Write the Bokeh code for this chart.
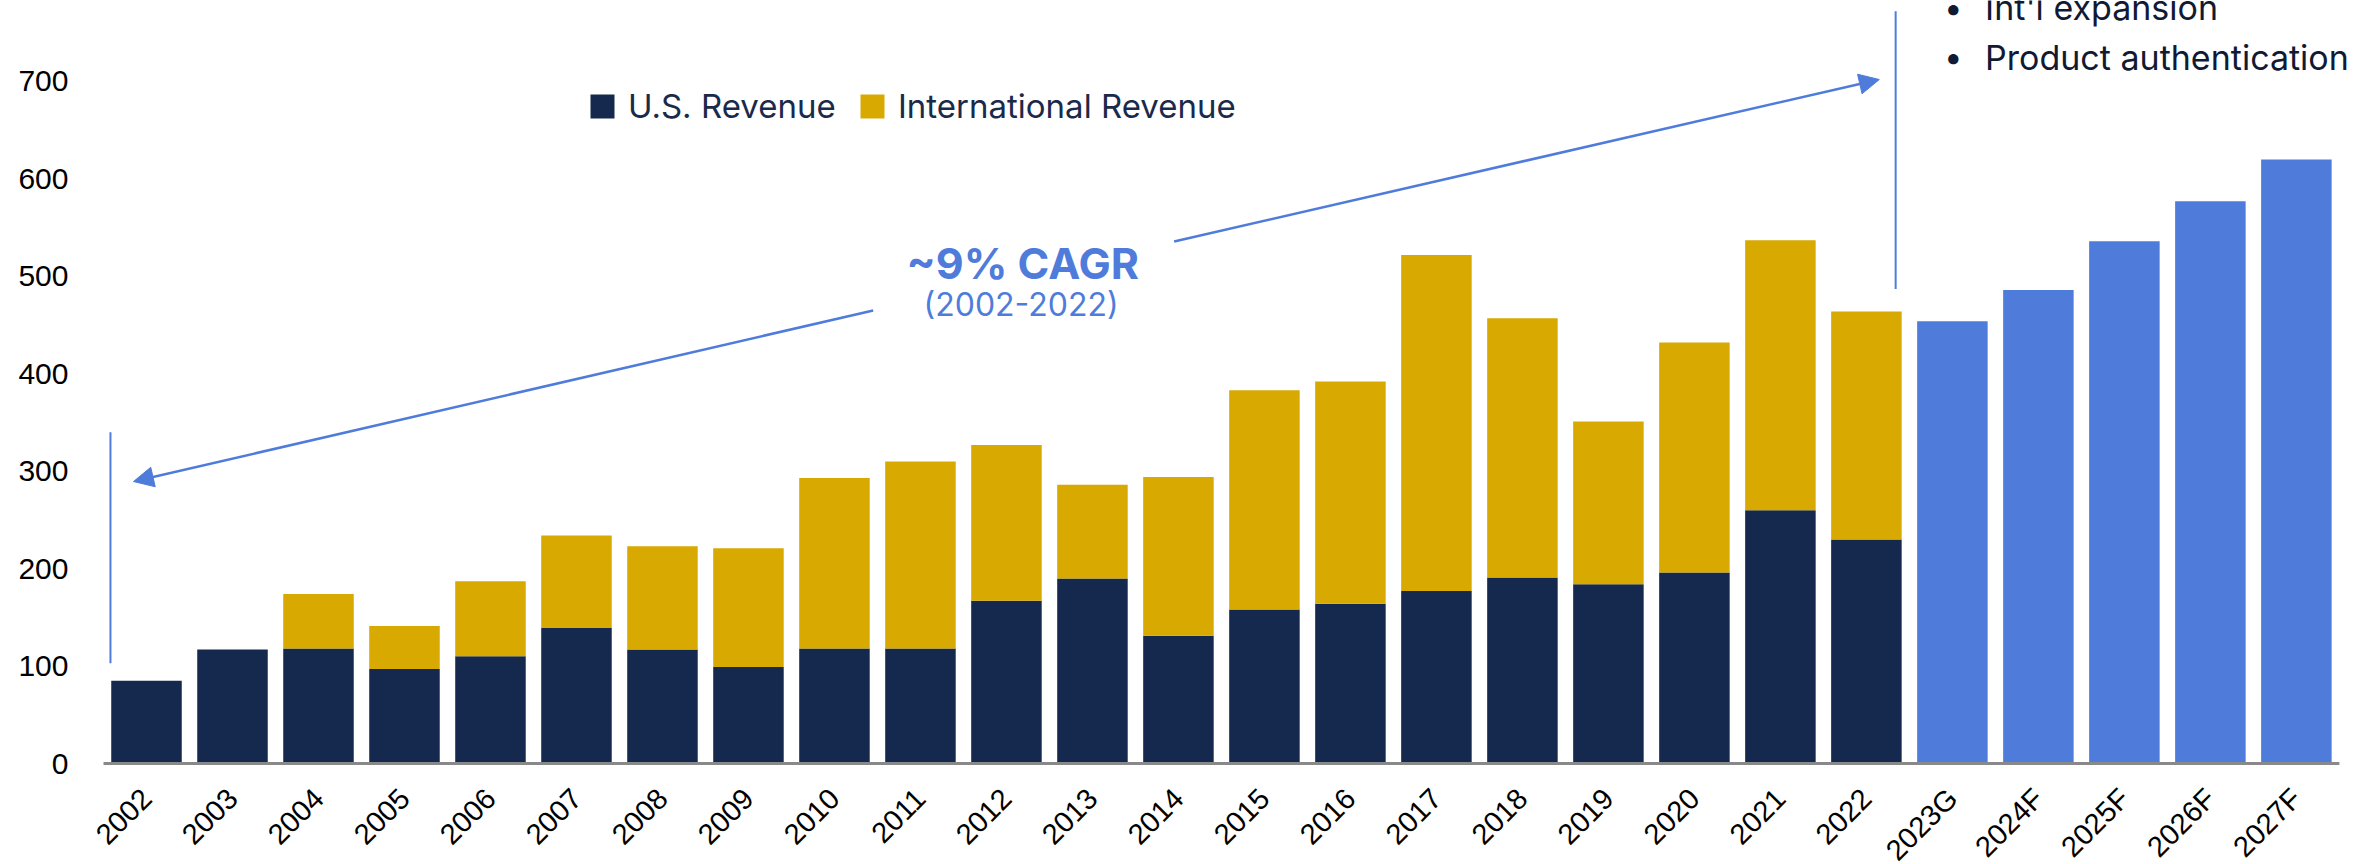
import math
from bokeh.plotting import figure
from bokeh.models import (Range1d, FixedTicker, ColumnDataSource, LabelSet,
                          Label, Arrow, NormalHead, Legend, LegendItem)
from bokeh.embed import file_html
from bokeh.resources import INLINE
from bokeh.core.properties import value

# ---------------- data ----------------
hist_years = ["2002", "2003", "2004", "2005", "2006", "2007", "2008", "2009", "2010", "2011",
              "2012", "2013", "2014", "2015", "2016", "2017", "2018", "2019", "2020", "2021", "2022"]
us_revenue = [85, 117, 118, 97, 110, 139, 117, 99, 118, 118,
              167, 190, 131, 158, 164, 177, 191, 184, 196, 260, 230]
intl_revenue = [0, 0, 56, 44, 77, 95, 106, 122, 175, 192,
                160, 96, 163, 225, 228, 345, 266, 167, 236, 277, 234]
fc_years = ["2023G", "2024F", "2025F", "2026F", "2027F"]
fc_revenue = [454, 486, 536, 577, 620]
y_ticks = [0, 100, 200, 300, 400, 500, 600, 700]
all_years = hist_years + fc_years

NAVY = "#15294f"
GOLD = "#d8a900"
BLUE = "#4f7cdb"
TEXT_NAVY = "#1a2a4a"
FONT = "Inter"

# category slots: one unit per year, bar centred in its slot
n = len(all_years)
x_all = [i + 0.5 for i in range(n)]
x_hist = x_all[:len(hist_years)]
x_fc = x_all[len(hist_years):]

W, H = 2375, 864
p = figure(x_range=Range1d(-0.3837, 26.42), y_range=Range1d(-103.66, 783.1),
           width=W, height=H, output_backend="svg", toolbar_location=None,
           min_border_left=70, min_border_right=0, min_border_top=0, min_border_bottom=0)
p.outline_line_color = None
p.grid.grid_line_color = None
p.background_fill_color = "white"

src = ColumnDataSource(dict(x=x_hist, us=us_revenue, intl=intl_revenue))
rs = p.vbar_stack(["us", "intl"], x="x", width=0.82, color=[NAVY, GOLD], source=src,
                  line_color=None)
p.vbar(x=x_fc, top=fc_revenue, width=0.82, color=BLUE, line_color=None)

# y axis
p.yaxis.ticker = FixedTicker(ticks=y_ticks)
p.yaxis.axis_line_color = None
p.yaxis.major_tick_line_color = None
p.yaxis.major_tick_out = 0
p.yaxis.minor_tick_line_color = None
p.yaxis.major_label_text_font = "Liberation Sans"
p.yaxis.major_label_text_font_size = "30px"
p.yaxis.major_label_text_color = "#000000"
p.yaxis.major_label_standoff = 2

# x axis: baseline + rotated category labels on the slot centres
p.xaxis.visible = False
p.segment(x0=[0], y0=[0], x1=[n], y1=[0], line_color="#898989", line_width=3)
lab_src = ColumnDataSource(dict(x=x_all, y=[0] * n, t=all_years))
p.add_layout(LabelSet(x="x", y="y", text="t", source=lab_src, angle=math.pi / 4,
                      text_align="right", text_baseline="middle", y_offset=-30, x_offset=0,
                      text_font=value("Liberation Sans"), text_font_size=value("29px"),
                      text_color="#000000"))

# legends
for item, (vx, vy) in [(LegendItem(label="U.S. Revenue", renderers=[rs[0]]), (517, 738)),
                       (LegendItem(label="International Revenue", renderers=[rs[1]]), (787, 738))]:
    leg = Legend(items=[item], location=(vx, vy), orientation="horizontal",
                 glyph_width=30, glyph_height=30, label_standoff=11, padding=0, margin=0,
                 spacing=0, border_line_color=None, background_fill_alpha=0,
                 label_text_font=FONT, label_text_font_size="33px",
                 label_text_color=TEXT_NAVY)
    p.add_layout(leg)

# CAGR annotation
p.add_layout(Label(x=10.69, y=514, text="~9% CAGR", text_align="center", text_baseline="middle",
                   text_font=FONT, text_font_style="bold", text_font_size="43px", text_color=BLUE))
p.add_layout(Label(x=10.67, y=471, text="(2002-2022)", text_align="center", text_baseline="middle",
                   text_font=FONT, text_font_size="32px", text_color=BLUE))

p.add_layout(Arrow(x_start=8.95, y_start=465, x_end=0.349, y_end=289.4, line_color=BLUE,
                   line_width=2.5, end=NormalHead(size=20, fill_color=BLUE, line_color=BLUE)))
p.add_layout(Arrow(x_start=12.45, y_start=535.8, x_end=20.65, y_end=702, line_color=BLUE,
                   line_width=2.5, end=NormalHead(size=20, fill_color=BLUE, line_color=BLUE)))

p.segment(x0=[0.081], y0=[103], x1=[0.081], y1=[340], line_color=BLUE, line_width=2)
p.segment(x0=[20.84], y0=[487], x1=[20.84], y1=[772], line_color=BLUE, line_width=2)

# bullets (top right)
for txt, yy in [("Int'l expansion", 775.9), ("Product authentication", 724.6)]:
    p.add_layout(Label(x=21.51, y=yy, text="•", text_align="center", text_baseline="middle",
                       text_font=FONT, text_font_size="33px", text_color="#111a33"))
    p.add_layout(Label(x=21.88, y=yy, text=txt, text_align="left", text_baseline="middle",
                       text_font=FONT, text_font_size="34px", text_color="#111a33"))

open("out.html", "w").write(file_html(p, INLINE))
